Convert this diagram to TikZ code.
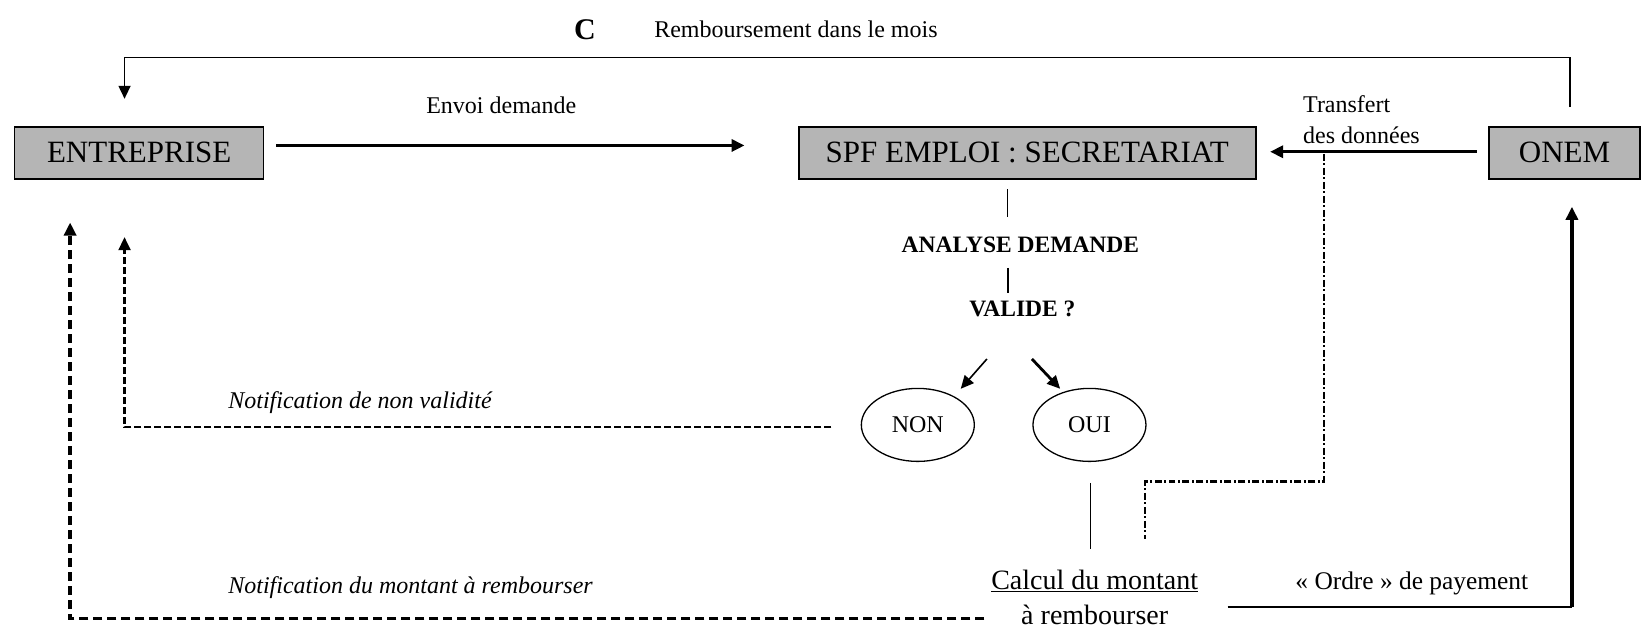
\documentclass[tikz,border=0pt]{standalone}
\usepackage{fontspec}
\setmainfont{Liberation Serif}
\usetikzlibrary{arrows.meta,shapes.geometric}

\definecolor{boxgray}{gray}{0.71}

\tikzset{
    box/.style={draw, line width=1.6pt, fill=boxgray, minimum height=52pt,
        inner sep=0pt, font=\fontsize{31}{34}\selectfont},
    lbl/.style={inner sep=0pt, font=\fontsize{24}{31}\selectfont},
    calclbl/.style={inner sep=0pt, font=\fontsize{28}{33}\selectfont},
    boldlbl/.style={inner sep=0pt, font=\fontsize{23.5}{28}\selectfont\bfseries},
    notelbl/.style={inner sep=0pt, font=\fontsize{24}{28}\selectfont\itshape},
    oval/.style={draw, ellipse, line width=1.3pt, minimum width=113pt,
        minimum height=73pt, inner sep=0pt, font=\fontsize{24}{28}\selectfont},
    head/.style={-{Triangle[length=13pt,width=12pt]}},
    thinflow/.style={line width=1.6pt},
    thickflow/.style={line width=3.3pt, head},
    dashflow/.style={line width=2.2pt, dash pattern=on 7pt off 3pt, head},
    bolddashflow/.style={line width=3.6pt, dash pattern=on 9pt off 5pt, head},
    dotdashflow/.style={line width=2.2pt, dash pattern=on 7pt off 2.5pt on 2pt off 2.5pt}
}

\begin{document}
\begin{tikzpicture}[x=1.0466pt,y=-1.0466pt]
    \useasboundingbox (0,0) rectangle (1568,603);

    \node[box, minimum width=249pt] (ent) at (133,146) {ENTREPRISE};
    \node[box, minimum width=457pt] (spf) at (981.5,146) {SPF EMPLOI : SECRETARIAT};
    \node[box, minimum width=151pt] (onem) at (1495,146) {ONEM};

    \node[boldlbl, font=\fontsize{30}{34}\selectfont\bfseries] (c) at (559,28) {C};
    \node[lbl, anchor=west] (remb) at (625,28) {Remboursement dans le mois};
    \node[lbl] (envoi) at (479,101) {Envoi demande};
    \node[lbl, anchor=west, align=left] (transf) at (1245,114) {Transfert\\des données};

    \node[boldlbl] (ana) at (975,234) {ANALYSE DEMANDE};
    \node[boldlbl] (val) at (977,295) {VALIDE ?};

    \node[oval] (non) at (877,406) {NON};
    \node[oval] (oui) at (1041,406) {OUI};

    \node[notelbl, anchor=west] (notnon) at (218,385) {Notification de non validité};
    \node[notelbl, anchor=west] (notmont) at (218,561) {Notification du montant à rembourser};

    \node[calclbl] (cal) at (1046,555) {\underline{Calcul du montant}};
    \node[calclbl] (calb) at (1046,588) {à rembourser};
    \node[lbl, font=\fontsize{25.4}{30}\selectfont] (ordre) at (1349,557) {« Ordre » de payement};

    \coordinate (topL) at (119,55);
    \coordinate (topR) at (1500,55);
    \coordinate (ddtop) at (1265,147);
    \coordinate (ddend) at (1094,515);
    \coordinate (ordreL) at (1173,580);
    \coordinate (ordreC) at (1502,580);

    \path[draw, thinflow, head] ([shift={(5,-18)}]onem.north) -- (topR) -- (topL)
        -- ([shift={(-14,-26)}]ent.north);

    \path[draw, thickflow] ([shift={(11,-7)}]ent.east) -- ([shift={(-51,-7)}]spf.west);
    \path[draw, thickflow] ([shift={(-11,-1)}]onem.west) -- ([shift={(13,-1)}]spf.east);

    \path[draw, thinflow] ([shift={(-19,9)}]spf.south) -- ++(0,27);
    \path[draw, thinflow] ([shift={(-12,22)}]ana.center) -- ++(0,24);

    \path[draw, thinflow, head] ([shift={(-34,48)}]val.center) -- ([shift={(41,1)}]non.north);
    \path[draw, line width=2.8pt, head] ([shift={(9,48)}]val.center) -- ([shift={(-28,1)}]oui.north);

    \path[draw, dashflow] ([shift={(-28,2)}]non.west) -| ([shift={(-14,55)}]ent.south);

    \path[draw, thinflow] ([shift={(1,20)}]oui.south) -- ++(0,63);
    \path[draw, dotdashflow] (ddtop) |- ([shift={(0,-55)}]ddend) -- (ddend);

    \path[draw, bolddashflow] ([shift={(-35,3)}]calb.west) -| ([shift={(-66,41)}]ent.south);

    \path[draw, thinflow] (ordreL) -- (ordreC);
    \path[draw, thickflow] (ordreC) -- ([shift={(7,26)}]onem.south);

\end{tikzpicture}
\end{document}
